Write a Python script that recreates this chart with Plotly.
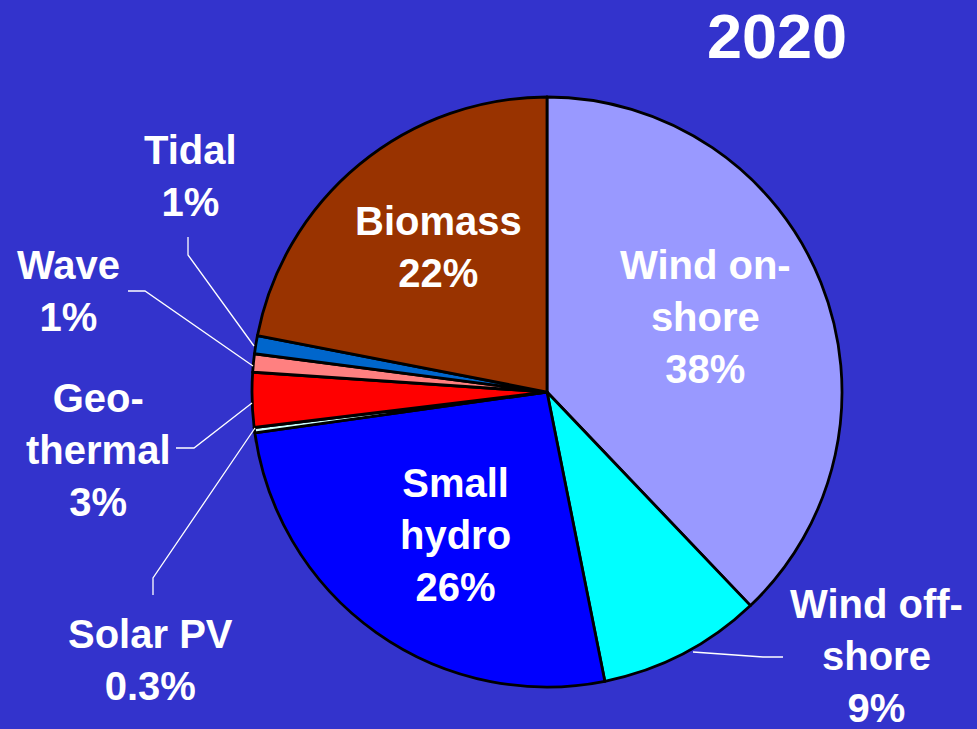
import plotly.graph_objects as go

# ---- data ----
sources = ["Wind on-shore", "Wind off-shore", "Small hydro", "Solar PV",
           "Geothermal", "Wave", "Tidal", "Biomass"]
shares = [38, 9, 26, 0.3, 3, 1, 1, 22]
share_text = ["38%", "9%", "26%", "0.3%", "3%", "1%", "1%", "22%"]
label_lines = ["Wind on-<br>shore", "Wind off-<br>shore", "Small<br>hydro", "Solar PV",
               "Geo-<br>thermal", "Wave", "Tidal", "Biomass"]
slice_colors = ["#9999FF", "#00FFFF", "#0000FF", "#CCFFFF",
                "#FF0000", "#FF8080", "#0066CC", "#993300"]
title_text = "2020"

# ---- layout helpers ----
W, H = 977, 729
BG = "#3333CC"
FONT = "Liberation Sans, Arial, sans-serif"


def px(x):
    return x / W


def py(y):
    return 1 - y / H


cx, cy, r = 547, 392, 295

fig = go.Figure(go.Pie(
    labels=sources,
    values=shares,
    sort=False,
    direction="clockwise",
    rotation=0,
    textinfo="none",
    hoverinfo="label+percent",
    marker=dict(colors=slice_colors, line=dict(color="black", width=2.8)),
    domain=dict(x=[px(cx - r), px(cx + r)], y=[py(cy + r), py(cy - r)]),
    showlegend=False,
))

# label positions (pixel centres) in the same order as sources
label_pos = [(705, 317), (876, 656), (455, 535), (150, 660),
             (98, 450), (68, 291), (190, 176), (438, 247)]

annotations = []
for name, pct, (x, y) in zip(label_lines, share_text, label_pos):
    annotations.append(dict(
        x=px(x), y=py(y), xref="paper", yref="paper",
        text="<b>" + name + "<br>" + pct + "</b>",
        showarrow=False, xanchor="center", yanchor="middle",
        font=dict(family=FONT, size=40, color="white"),
        align="center",
    ))

annotations.append(dict(
    x=px(777), y=py(36), xref="paper", yref="paper",
    text="<b>" + title_text + "</b>", showarrow=False,
    xanchor="center", yanchor="middle",
    font=dict(family=FONT, size=63, color="white"),
))

# leader lines (pixel polylines)
leaders = [
    [(188, 237), (188, 255), (254, 346)],          # Tidal
    [(128, 291), (145, 291), (253, 366)],          # Wave
    [(176, 448), (194, 448), (252, 403)],          # Geothermal
    [(153, 595), (153, 578), (255, 428)],          # Solar PV
    [(693, 652), (763, 657), (783, 657)],          # Wind off-shore
]
shapes = []
for pts in leaders:
    path = "M " + " L ".join(f"{px(x):.5f},{py(y):.5f}" for x, y in pts)
    shapes.append(dict(type="path", path=path, xref="paper", yref="paper",
                       line=dict(color="white", width=1.3)))

fig.update_layout(
    width=W, height=H,
    margin=dict(l=0, r=0, t=0, b=0),
    paper_bgcolor=BG, plot_bgcolor=BG,
    annotations=annotations,
    shapes=shapes,
)

fig.write_html("out.html",
               config={"displayModeBar": False},
               post_script="document.body.style.margin='0';"
                           "document.body.style.background='" + BG + "';")
